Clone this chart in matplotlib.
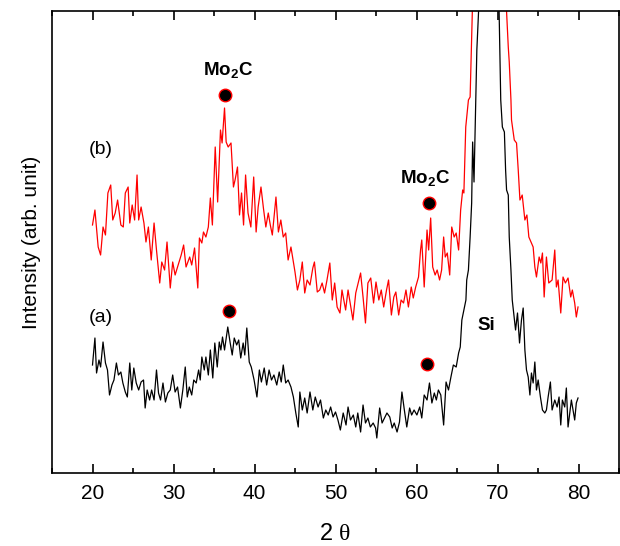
import matplotlib
matplotlib.use("Agg")
import matplotlib.pyplot as plt
from matplotlib.ticker import MultipleLocator

plt.rcParams['font.family'] = ['Liberation Sans', 'DejaVu Sans']
plt.rcParams['mathtext.fontset'] = 'custom'
plt.rcParams['mathtext.rm'] = 'Liberation Serif'
plt.rcParams['mathtext.bf'] = 'Liberation Sans:bold'

# sample (b) - red
two_theta_b = [20.0, 20.3, 20.7, 21.0, 21.3, 21.6, 21.9, 22.25, 22.5, 22.8, 23.1, 23.5, 23.8, 24.05,
               24.4, 24.6, 24.9, 25.2, 25.5, 25.7, 26.0, 26.35, 26.6, 26.9, 27.25, 27.6, 27.9, 28.3,
               28.55, 28.9, 29.2, 29.6, 29.9, 30.2, 30.5, 30.95, 31.25, 31.55, 32.0, 32.25, 32.6, 33.0,
               33.2, 33.5, 33.7, 34.0, 34.3, 34.55, 34.8, 35.15, 35.45, 35.8, 36.0, 36.3, 36.5, 36.75,
               37.1, 37.4, 37.6, 37.9, 38.15, 38.4, 38.65, 38.9, 39.2, 39.55, 39.9, 40.2, 40.45, 40.8,
               41.1, 41.4, 41.7, 41.95, 42.2, 42.65, 42.95, 43.25, 43.55, 43.85, 44.15, 44.5, 44.7, 45.0,
               45.3, 45.6, 45.9, 46.2, 46.5, 46.85, 47.2, 47.4, 47.75, 48.05, 48.35, 48.65, 48.95, 49.3,
               49.6, 49.9, 50.2, 50.55, 50.8, 51.25, 51.55, 51.85, 52.15, 52.5, 52.8, 53.1, 53.4, 53.7,
               54.0, 54.35, 54.7, 55.0, 55.35, 55.65, 55.95, 56.3, 56.55, 56.9, 57.2, 57.45, 57.8, 58.1,
               58.4, 58.7, 59.0, 59.35, 59.6, 59.9, 60.25, 60.5, 60.65, 60.95, 61.3, 61.5, 61.75, 62.0,
               62.3, 62.55, 62.85, 63.1, 63.35, 63.55, 63.8, 64.1, 64.35, 64.65, 64.9, 65.2, 65.45, 65.7,
               65.85, 66.0, 66.08, 66.41, 66.62, 66.9, 67.5, 69.0, 70.5, 71.05, 71.33, 71.45, 71.66, 71.73,
               72.07, 72.35, 72.56, 72.77, 73.05, 73.38, 73.63, 73.87, 74.4, 74.61, 74.81, 75.14, 75.35, 75.55,
               75.76, 76.04, 76.33, 76.74, 77.07, 77.27, 77.48, 77.81, 78.09, 78.38, 78.71, 79.04, 79.24, 79.53,
               79.73, 79.94]
intensity_b = [247, 262, 225, 217, 245, 237, 279, 287, 252, 259, 272, 247, 245, 279,
               285, 249, 267, 252, 297, 252, 265, 249, 230, 245, 212, 249, 222, 189,
               210, 202, 230, 184, 210, 197, 205, 217, 227, 205, 215, 207, 224, 184,
               234, 229, 240, 235, 245, 274, 247, 325, 270, 342, 329, 364, 330, 325,
               329, 285, 292, 305, 257, 279, 247, 297, 259, 245, 295, 240, 265, 285,
               264, 245, 259, 247, 237, 275, 240, 252, 235, 239, 212, 225, 215, 200,
               182, 192, 210, 179, 192, 187, 204, 210, 180, 182, 189, 179, 192, 209,
               172, 189, 165, 159, 182, 162, 182, 167, 152, 179, 189, 199, 175, 149,
               189, 194, 169, 190, 172, 182, 165, 182, 192, 157, 175, 180, 157, 172,
               169, 182, 165, 185, 174, 185, 195, 222, 232, 185, 242, 222, 254, 205,
               197, 202, 192, 202, 235, 215, 219, 197, 245, 235, 239, 222, 262, 282,
               279, 322, 345, 372, 375, 460, 700, 900, 700, 472, 425, 410, 372, 352,
               332, 329, 302, 272, 277, 252, 257, 235, 225, 205, 195, 215, 209, 219,
               175, 215, 189, 192, 222, 185, 192, 159, 195, 189, 194, 175, 182, 169,
               155, 165]

# sample (a) - black
two_theta_a = [20.0, 20.3, 20.5, 20.8, 21.0, 21.3, 21.6, 21.85, 22.1, 22.4, 22.65, 22.95, 23.2, 23.5,
               23.75, 24.05, 24.3, 24.6, 24.85, 25.1, 25.4, 25.7, 26.0, 26.3, 26.5, 26.75, 27.05, 27.3,
               27.6, 27.9, 28.15, 28.4, 28.7, 29.0, 29.3, 29.6, 29.9, 30.2, 30.5, 30.85, 31.15, 31.45,
               31.7, 31.95, 32.25, 32.5, 32.8, 33.1, 33.3, 33.5, 33.8, 34.0, 34.3, 34.55, 34.85, 35.1,
               35.4, 35.65, 35.85, 36.05, 36.3, 36.7, 37.0, 37.25, 37.5, 37.8, 38.05, 38.3, 38.6, 38.8,
               39.05, 39.35, 39.6, 39.95, 40.3, 40.6, 40.85, 41.2, 41.5, 41.8, 42.1, 42.4, 42.75, 43.05,
               43.3, 43.55, 43.85, 44.15, 44.5, 44.8, 45.1, 45.4, 45.6, 45.9, 46.2, 46.5, 46.85, 47.2,
               47.5, 47.85, 48.15, 48.5, 48.8, 49.1, 49.4, 49.7, 50.0, 50.3, 50.6, 50.95, 51.3, 51.55,
               51.85, 52.2, 52.5, 52.75, 53.1, 53.4, 53.7, 54.0, 54.3, 54.65, 54.95, 55.1, 55.45, 55.75,
               56.05, 56.35, 56.7, 57.0, 57.25, 57.6, 57.9, 58.2, 58.5, 58.8, 59.15, 59.4, 59.7, 60.05,
               60.4, 60.65, 60.95, 61.3, 61.6, 61.9, 62.2, 62.45, 62.7, 63.0, 63.35, 63.65, 63.95, 64.25,
               64.55, 64.9, 65.2, 65.4, 65.6, 65.8, 66.1, 66.2, 66.41, 66.62, 66.81, 66.93, 67.1, 67.25,
               67.45, 67.66, 68.9, 70.2, 70.4, 70.6, 70.85, 71.0, 71.12, 71.33, 71.45, 71.66, 71.82, 72.23,
               72.47, 72.72, 72.96, 73.17, 73.38, 73.58, 73.79, 74.0, 74.19, 74.4, 74.61, 74.81, 75.02, 75.3,
               75.55, 75.84, 76.04, 76.25, 76.53, 76.74, 77.07, 77.36, 77.6, 77.81, 78.01, 78.3, 78.5, 78.71,
               78.92, 79.12, 79.32, 79.53, 79.73, 79.94]
intensity_a = [107, 134, 99, 112, 105, 130, 109, 102, 77, 87, 92, 109, 97, 100,
               89, 80, 75, 109, 82, 104, 89, 82, 90, 92, 64, 82, 72, 82,
               72, 102, 79, 72, 89, 70, 79, 82, 97, 80, 85, 64, 82, 105,
               75, 85, 77, 92, 89, 102, 92, 115, 102, 115, 97, 122, 94, 129,
               105, 130, 122, 135, 122, 145, 129, 117, 134, 127, 132, 114, 129, 117,
               144, 110, 105, 92, 75, 102, 90, 104, 87, 102, 92, 97, 87, 100,
               90, 107, 89, 92, 85, 75, 59, 45, 80, 62, 74, 59, 80, 62,
               75, 65, 72, 54, 62, 57, 65, 55, 60, 52, 42, 59, 47, 65,
               52, 57, 45, 59, 40, 67, 49, 54, 45, 49, 44, 34, 64, 49,
               54, 59, 55, 44, 49, 40, 50, 80, 62, 45, 64, 57, 62, 57,
               65, 54, 77, 72, 89, 69, 79, 72, 82, 77, 47, 90, 82, 95,
               107, 105, 119, 125, 152, 160, 172, 192, 202, 235, 269, 330, 290, 345,
               422, 460, 1100, 460, 372, 345, 340, 302, 282, 277, 235, 202, 172, 142,
               159, 129, 152, 164, 122, 102, 95, 77, 99, 89, 110, 82, 92, 75,
               62, 59, 62, 75, 90, 62, 72, 65, 75, 47, 72, 65, 84, 45,
               59, 72, 62, 52, 69, 74]

# Mo2C markers
mo2c_b_x = [36.3, 61.57]
mo2c_b_y = [377, 269]
mo2c_a_x = [36.8, 61.28]
mo2c_a_y = [161, 108]

fig = plt.figure(figsize=(6.2, 5.46), dpi=100)
ax = fig.add_axes([52/620, 73/546, 567/620, 462/546])

ax.plot(two_theta_b, intensity_b, color='red', lw=0.9)
ax.plot(two_theta_a, intensity_a, color='black', lw=0.9)

ax.plot(mo2c_b_x, mo2c_b_y, 'o', ms=9, mfc='black', mec='red', mew=1, zorder=5)
ax.plot(mo2c_a_x, mo2c_a_y, 'o', ms=9, mfc='black', mec='red', mew=1, zorder=5)

ax.text(36.75, 402, r'$\mathbf{Mo_2C}$', ha='center', va='center', fontsize=13.5)
ax.text(61.1, 294, r'$\mathbf{Mo_2C}$', ha='center', va='center', fontsize=13.5)
ax.text(68.66, 147, 'Si', ha='center', va='center', fontsize=13.5, fontweight='bold')
ax.text(21.0, 322, '(b)', ha='center', va='center', fontsize=14)
ax.text(21.0, 154, '(a)', ha='center', va='center', fontsize=14)

ax.set_xlim(15, 85)
ax.set_ylim(-1, 461)
ax.xaxis.set_major_locator(MultipleLocator(10))
ax.xaxis.set_minor_locator(MultipleLocator(5))
ax.tick_params(axis='x', which='both', direction='in', top=True, labelsize=15, width=1.2)
ax.tick_params(axis='x', which='major', length=6.5, pad=8)
ax.tick_params(axis='x', which='minor', length=3.6)
ax.tick_params(axis='y', left=False, labelleft=False)
for s in ax.spines.values():
    s.set_linewidth(1.2)

ax.set_xlabel(r'2 $\mathrm{\theta}$', fontsize=17, labelpad=14)
ax.set_ylabel('Intensity (arb. unit)', fontsize=15, labelpad=8)

fig.savefig('out.png', dpi=100)
